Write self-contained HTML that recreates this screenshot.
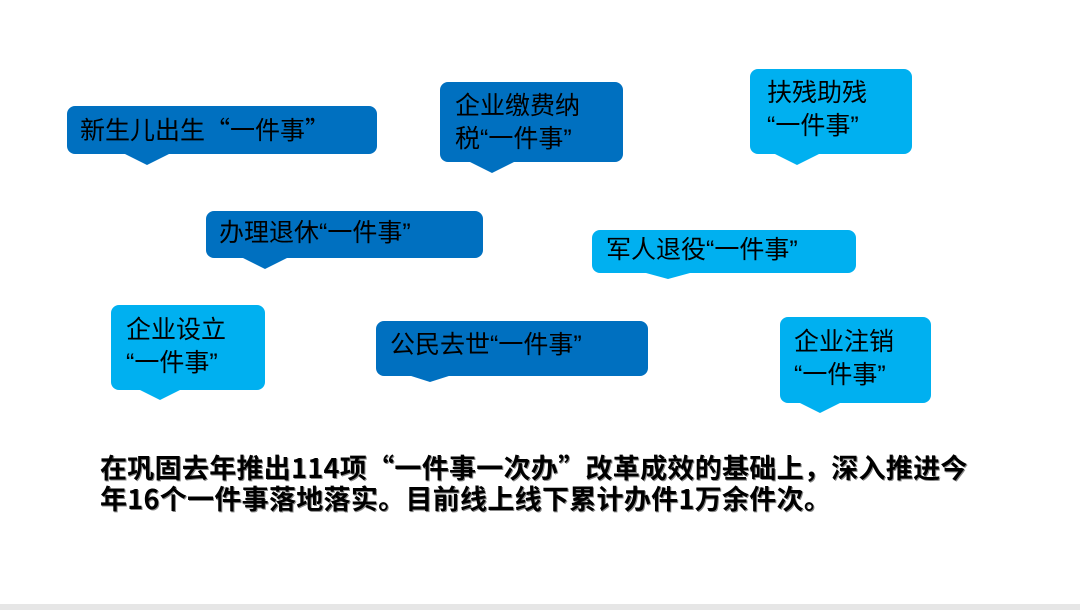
<!DOCTYPE html>
<html><head><meta charset="utf-8"><style>
body{margin:0;width:1080px;height:610px;background:#fff;position:relative;overflow:hidden;font-family:"Liberation Sans","Noto Sans CJK SC",sans-serif}
.b{position:absolute;border-radius:8px;color:#000;font-size:25px;line-height:33px;box-sizing:border-box;white-space:nowrap}
.d{background:#0070c0}.l{background:#00b0f0}
.t{position:absolute;width:0;height:0;border-left:22px solid transparent;border-right:22px solid transparent}
.td{border-top:11px solid #0070c0}.tl{border-top:11px solid #00b0f0}
.m{position:absolute;left:100px;top:451px;font-weight:bold;font-size:27px;line-height:31px;color:#000;white-space:nowrap;font-family:"Noto Sans CJK SC",sans-serif;letter-spacing:0.3px;text-shadow:1px 1px 0 #888}
.q{font-family:"Noto Sans CJK SC",sans-serif}
.bar{position:absolute;left:0;top:604px;width:1080px;height:6px;background:#e6e6e6}
</style></head><body>
<div class="b d" style="left:67px;top:106px;width:310px;height:48px;padding:7px 0 0 13px">新生儿出生<span class="q">“</span>一件事<span class="q">”</span></div>
<div class="t td" style="left:125px;top:154px"></div>
<div class="b d" style="left:440px;top:82px;width:183px;height:80px;padding:8px 0 0 15px">企业缴费纳<br>税“一件事”</div>
<div class="t td" style="left:470px;top:162px"></div>
<div class="b l" style="left:750px;top:69px;width:162px;height:85px;padding:8px 0 0 17px">扶残助残<br>“一件事”</div>
<div class="t tl" style="left:775px;top:154px"></div>
<div class="b d" style="left:206px;top:211px;width:277px;height:47px;padding:6px 0 0 13px">办理退休“一件事”</div>
<div class="t td" style="left:243px;top:258px"></div>
<div class="b l" style="left:592px;top:230px;width:264px;height:43px;padding:4px 0 0 14px">军人退役“一件事”</div>
<div class="t tl" style="left:646px;top:273px;border-top-width:6px"></div>
<div class="b l" style="left:111px;top:305px;width:154px;height:85px;padding:9px 0 0 15px">企业设立<br>“一件事”</div>
<div class="t tl" style="left:138px;top:389px"></div>
<div class="b d" style="left:376px;top:321px;width:272px;height:55px;padding:8px 0 0 14px">公民去世“一件事”</div>
<div class="t td" style="left:408px;top:375px;border-top-width:7px"></div>
<div class="b l" style="left:780px;top:317px;width:151px;height:86px;padding:9px 0 0 14px">企业注销<br>“一件事”</div>
<div class="t tl" style="left:798px;top:402px"></div>
<div class="m">在巩固去年推出114项“一件事一次办”改革成效的基础上，深入推进今<br>年16个一件事落地落实。目前线上线下累计办件1万余件次。</div>
<div class="bar"></div>
</body></html>
